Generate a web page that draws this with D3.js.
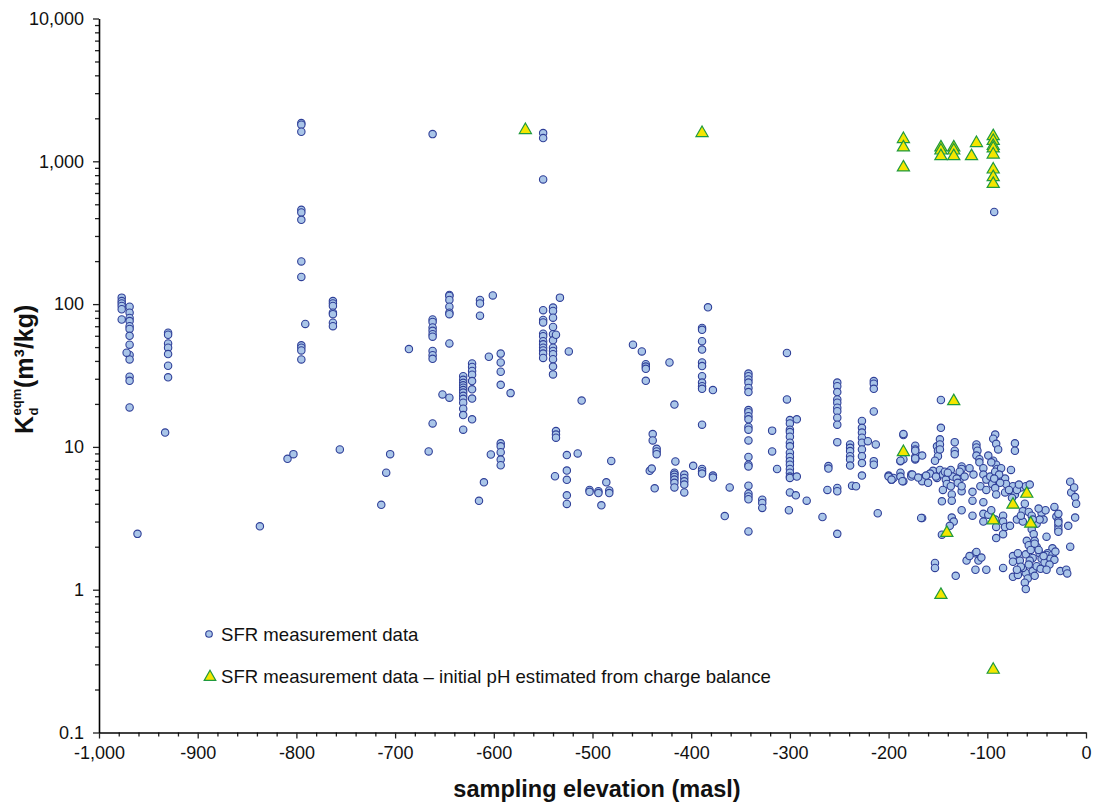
<!DOCTYPE html>
<html>
<head>
<meta charset="utf-8">
<script src="https://cdn.jsdelivr.net/npm/d3@7"></script>
<style>
  html, body { margin: 0; padding: 0; background: #fff; }
  svg { display: block; font-family: "Liberation Sans", Arial, sans-serif; }
</style>
</head>
<body>
<svg id="chart" width="1093" height="805"></svg>
<script>
// Sorption coefficient Kd (m3/kg) against sampling elevation (masl)

// SFR measurement data: [elevation, Kd]
const sfrPoints = [
  [-977,111],[-977,105],[-977,101],[-977,97],[-977,92],[-977,78],
  [-969,96],[-969,87],[-969,80],[-969,76],[-969,70],[-969,67],[-969,60],[-969,52],[-969,44],[-969,41],[-969,31],[-969,29],[-969,18.9],
  [-972,45.7],[-961,2.46],
  [-930,63],[-930,61],[-930,53],[-930,49.5],[-930,44.7],[-930,37],[-930,30.7],[-933,12.6],
  [-837,2.78],[-809,8.25],[-803,8.9],
  [-795,1853],[-795,1804],[-795,1610],[-795,457],[-795,438],[-795,389],[-795,199],[-795,155],
  [-795,51.4],[-795,49.5],[-795,47.4],[-795,41],[-791,72.6],
  [-763,105],[-763,101],[-763,97],[-763,87],[-763,85],[-763,74],[-763,70],[-756,9.6],
  [-714,3.93],[-709,6.6],[-705,8.9],
  [-686,48.4],
  [-662,1550],[-662,78],[-662,75],[-662,68.6],[-662,65],[-662,61.5],[-662,59.1],[-662,47],[-662,43.9],[-662,41.4],
  [-666,9.3],[-662,14.6],
  [-652,23.3],[-645,116],[-645,114],[-645,107],[-645,96],[-645,87],[-645,85],[-645,53],[-645,22.1],
  [-631,31.3],[-631,29.5],[-631,28.1],[-631,27],[-631,26],[-631,25],[-631,24],[-631,22.8],[-631,21.7],[-631,20.4],[-631,18.5],[-631,16.7],[-631,13.2],
  [-622,38.4],[-622,36.3],[-622,34],[-622,32],[-622,28.9],[-622,25.3],[-622,21.8],[-622,15.6],
  [-615,4.19],[-610,5.65],[-614,107],[-614,101],[-614,83],[-601,115],[-605,42.8],[-603,8.85],
  [-593,45],[-593,39],[-593,33.6],[-593,27.2],[-593,10.6],[-593,10.1],[-593,9.17],[-593,8.15],[-593,7.44],[-583,23.8],
  [-550,1577],[-550,1455],[-550,747],
  [-550,90.6],[-550,77.5],[-550,74.4],[-550,62],[-550,59.6],[-550,55],[-550,52.3],[-550,49.5],[-550,47.4],[-550,45],[-550,42],
  [-540,94.5],[-540,89.6],[-540,80.4],[-540,69.2],[-540,61.5],[-540,55.8],[-540,49.5],[-540,47],[-540,44.6],[-540,41.1],[-540,36.5],[-540,32.2],[-537,61],
  [-537,12.9],[-537,12.2],[-537,11.6],
  [-533,111],[-524,46.6],[-526,8.76],[-515,9.0],[-538,6.23],[-526,6.83],[-526,5.88],[-526,4.58],[-526,3.99],[-511,21.1],
  [-503,5.0],[-503,4.85],[-494,4.9],[-494,4.75],[-483,4.95],[-483,4.75],[-486,5.65],[-481,7.98],[-491,3.9],
  [-459,52],[-450,46.6],[-446,37.9],[-446,36.5],[-446,35.2],[-446,29],[-422,39],[-417,19.8],
  [-439,12.3],[-439,11.1],[-435,9.7],[-435,9.3],[-435,8.9],[-442,6.8],[-440,7.05],[-437,5.13],
  [-416,7.9],[-417,6.6],[-417,6.4],[-417,6.16],[-417,5.9],[-417,5.6],[-417,5.2],
  [-407,6.4],[-407,6.06],[-407,5.74],[-407,5.45],[-407,4.8],[-398,7.37],
  [-389,68],[-389,66],[-389,55],[-389,48],[-389,39],[-389,36.8],[-389,31.3],[-389,28.2],[-389,26.6],[-389,25.5],[-389,14.3],[-383,95],
  [-378,25],[-389,7.0],[-389,6.76],[-389,6.5],[-378,6.3],[-378,6.1],[-361,5.2],[-366,3.28],
  [-342,32.6],[-342,31.3],[-342,29.7],[-342,28.2],[-342,25.9],[-342,24.2],[-342,18.1],[-342,17.5],[-342,16.4],[-342,15.6],
  [-342,13.8],[-342,13.2],[-342,11.1],[-342,8.5],[-342,7.5],[-342,7.3],[-342,5.35],[-342,4.7],[-342,4.5],[-342,4.3],[-342,2.56],
  [-328,4.27],[-328,4.05],[-328,3.74],[-318,13.0],[-318,9.3],[-313,7.0],
  [-303,45.5],[-303,21.5],
  [-300,15.4],[-300,14.6],[-300,13.2],[-300,12.7],[-300,11.8],[-300,10.7],[-300,10.1],[-300,9.1],[-300,8.5],[-300,7.95],
  [-300,7.5],[-300,7.0],[-300,6.6],[-300,6.2],[-300,6.06],
  [-293,15.6],[-293,6.2],[-300,4.8],[-294,4.58],[-283,4.2],[-301,3.6],[-267,3.23],
  [-252,28.2],[-252,26.6],[-252,24.2],[-252,21.5],[-252,20.4],[-252,18.8],[-252,17.8],[-252,16],[-252,14.3],[-252,10.8],
  [-252,5.16],[-252,4.89],[-252,2.46],
  [-261,7.34],[-261,7.05],[-262,5.0],
  [-239,10.4],[-239,9.85],[-239,9.35],[-239,8.6],[-239,8.17],[-239,7.4],[-237,5.35],[-233,5.3],
  [-227,15.2],[-227,13.6],[-227,12.6],[-227,11.6],[-227,10.7],[-227,9.6],[-227,8.6],[-227,7.7],[-227,6.3],[-221,10.96],
  [-215,28.9],[-215,27.7],[-215,25.5],[-215,17.7],[-215,7.95],[-215,7.5],[-213,10.4],[-211,3.43],
  [-185,12.1],
  // shallow boreholes, -200 to 0 masl
  [-200,6.3],[-197,5.9],[-195,6.06],[-188,6.6],[-188,6.2],[-185,5.75],[-188,7.95],[-185,8.2],
  [-177,6.4],[-177,6.2],[-166,6.06],[-166,5.75],[-160,5.6],[-151,6.06],
  [-173,10.2],[-173,9.6],[-173,8.5],[-171,8.7],[-173,8.17],[-166,3.18],[-153,1.54],[-153,1.42],
  [-147,21.3],[-147,13.6],[-146,4.16],[-146,2.43],
  [-185,12.3],[-133,10.8],[-173,9.4],[-166,8.7],[-173,8.3],[-188,8.0],
  [-151,10.1],[-150,9.4],[-150,8.6],[-153,8.0],
  [-148,11.3],[-148,10.4],[-148,9.6],[-133,9.4],[-133,8.9],
  [-111,10.4],[-111,9.9],[-110,9.4],[-111,8.7],[-108,8.2],[-108,7.8],
  [-92,12.2],[-94,11.4],[-91,10.5],[-89,9.6],[-72,10.6],[-72,9.4],[-99,8.7],
  [-94,8.0],[-91,7.5],[-90,7.0],[-126,7.3],[-126,7.0],
  [-200,6.2],[-197,5.9],[-186,5.75],[-176,6.4],[-155,6.8],[-148,6.9],[-145,6.4],[-142,5.9],
  [-137,6.9],[-135,6.2],[-128,6.7],[-128,5.9],[-123,6.2],[-118,7.1],[-114,6.4],[-104,7.1],[-104,6.4],
  [-101,5.9],[-97,6.2],[-92,6.7],[-91,5.9],[-86,7.1],[-82,6.0],[-81,5.5],[-76,6.9],[-74,5.3],
  [-66,5.2],[-61,5.3],[-57,5.45],
  [-158,6.5],[-152,6.2],[-143,6.7],[-170,6.1],[-162,6.3],
  [-140,6.6],[-131,6.0],[-130,5.6],[-141,5.5],[-126,4.9],
  [-96,7.8],[-88,6.4],[-95,5.5],[-87,5.6],[-93,6.0],
  [-145,5.0],[-137,5.3],[-136,4.65],[-126,5.3],[-115,4.85],[-107,5.3],[-101,5.0],[-92,5.15],[-91,4.65],
  [-82,4.8],[-72,4.65],[-78,5.0],[-70,5.0],[-68,5.45],[-75,4.4],
  [-136,4.2],[-115,4.2],[-126,3.6],[-167,3.18],[-136,3.2],[-134,3.0],[-138,2.8],
  [-115,3.3],[-104,4.1],[-104,3.4],[-104,3.0],
  [-99,3.35],[-96,3.6],[-92,3.1],[-91,2.75],[-91,2.3],
  [-84,3.3],[-84,3.0],[-82,2.75],[-84,2.45],[-77,2.8],[-70,3.1],[-64,3.55],[-64,3.0],
  [-62,4.0],[-58,3.5],[-55,3.3],[-66,3.3],[-45,3.45],[-41,3.6],
  [-55,2.65],[-53,2.45],[-52,2.2],[-50,2.0],[-60,2.2],[-58,2.05],
  [-48,3.7],[-43,3.1],[-50,2.9],[-47,3.1],[-54,3.1],[-40,2.35],[-34,1.95],[-39,1.8],
  [-32,3.8],[-30,3.25],[-28,3.05],[-28,2.8],[-28,2.65],[-28,3.4],[-28,2.95],[-28,2.55],[-18,2.8],
  [-16,5.7],[-15,4.8],[-12,5.2],[-11,4.45],[-10,4.0],[-11,3.2],[-16,2.0],
  [-74,1.72],[-67,1.6],[-61,1.77],[-54,1.67],[-47,1.8],[-40,1.75],[-34,1.75],[-37,1.58],[-74,1.57],[-69,1.8],
  [-74,1.23],[-69,1.27],[-61,1.31],[-54,1.35],[-64,1.42],[-57,1.6],[-50,1.46],
  [-52,2.1],[-48,1.9],[-45,1.65],[-56,1.9],[-58,1.5],[-66,1.45],[-70,1.38],[-59,1.2],[-52,1.25],
  [-46,1.4],[-42,1.55],[-36,1.65],[-31,1.85],[-32,1.62],
  [-62,1.12],[-61,1.01],
  [-112,1.8],[-111,1.84],[-109,1.6],[-112,1.38],[-121,1.6],[-101,1.38],[-84,1.42],[-118,1.72],[-106,1.68],
  [-132,1.25],
  [-26,1.35],[-20,1.38],[-19,1.3],
  [-43,1.72],[-37,1.5],[-40,1.38],
  [-93,442]
];

// SFR measurement data with initial pH estimated from charge balance: [elevation, Kd]
const chargeBalancePoints = [
  [-568,1655],[-389,1577],
  [-185,1432],[-185,1251],[-185,906],
  [-147,1251],[-147,1190],[-147,1086],
  [-134,1251],[-134,1190],[-134,1086],
  [-116,1086],[-111,1342],
  [-94,1500],[-94,1390],[-94,1280],[-94,1230],[-94,1115],[-94,876],[-94,775],[-94,695],
  [-134,20.9],[-185,9.2],[-60,4.7],[-74,3.94],[-94,3.06],[-56,2.9],[-141,2.5],[-147,0.92],[-94,0.275]
];

// Axis ticks and labels
const xMajorTicks = [-1000,-900,-800,-700,-600,-500,-400,-300,-200,-100,0];
const yMajorTicks = [0.1, 1, 10, 100, 1000, 10000];
const legendLabels = [
  "SFR measurement data",
  "SFR measurement data \u2013 initial pH estimated from charge balance"
];

(function draw() {
  const svg = d3.select("#chart");
  const plotLeft = 99, plotRight = 1086, plotTop = 18.5, plotBottom = 732.5;

  const x = d3.scaleLinear().domain([-1000, 0]).range([plotLeft, plotRight]);
  const y = d3.scaleLog().domain([0.1, 10000]).range([plotBottom, plotTop]);

  const fmtNum = v => d3.format(",")(v).replace("\u2212", "-");

  const xMinor = d3.range(-1000, 1, 20).filter(v => v % 100 !== 0);
  const yMinor = [];
  yMajorTicks.slice(0, -1).forEach(d => { for (let k = 2; k <= 9; k++) yMinor.push(+(d * k).toPrecision(3)); });

  // minor ticks
  svg.append("g")
    .attr("transform", `translate(0,${plotBottom})`)
    .call(d3.axisBottom(x).tickValues(xMinor).tickSize(4).tickFormat(""))
    .call(g => g.select(".domain").remove());
  svg.append("g")
    .attr("transform", `translate(${plotLeft},0)`)
    .call(d3.axisLeft(y).tickValues(yMinor).tickSize(4).tickFormat(""))
    .call(g => g.select(".domain").remove());

  // major ticks and labels
  const xAxis = svg.append("g")
    .attr("transform", `translate(0,${plotBottom})`)
    .call(d3.axisBottom(x).tickValues(xMajorTicks).tickSize(6).tickPadding(8).tickFormat(fmtNum).tickSizeOuter(0));
  const yAxis = svg.append("g")
    .attr("transform", `translate(${plotLeft},0)`)
    .call(d3.axisLeft(y).tickValues(yMajorTicks).tickSize(6).tickPadding(9).tickFormat(fmtNum).tickSizeOuter(0));

  [xAxis, yAxis].forEach(g => {
    g.selectAll("text").attr("font-size", 18).attr("fill", "#111").attr("font-family", "Liberation Sans, Arial, sans-serif");
    g.select(".domain").attr("stroke", "#000").attr("stroke-width", 1.6);
  });
  svg.selectAll(".tick line").attr("stroke", "#222").attr("stroke-width", 1.3);

  // measurement points
  svg.append("g")
    .selectAll("circle")
    .data(sfrPoints)
    .join("circle")
    .attr("cx", d => x(d[0]))
    .attr("cy", d => y(d[1]))
    .attr("r", 3.7)
    .attr("fill", "#a9c5e8")
    .attr("stroke", "#2f3f98")
    .attr("stroke-width", 1.1);

  const tri = d3.symbol().type(d3.symbolTriangle).size(64);
  svg.append("g")
    .selectAll("path")
    .data(chargeBalancePoints)
    .join("path")
    .attr("d", tri)
    .attr("transform", d => `translate(${x(d[0])},${y(d[1])})`)
    .attr("fill", "#f4e600")
    .attr("stroke", "#1f9a3e")
    .attr("stroke-width", 1.2);

  // legend
  const legend = svg.append("g").attr("font-size", 18.6).attr("fill", "#111");
  legend.append("circle").attr("cx", 209).attr("cy", 634).attr("r", 3.3)
    .attr("fill", "#a9c5e8").attr("stroke", "#2f3f98").attr("stroke-width", 1.1);
  legend.append("text").attr("x", 221).attr("y", 640.5).text(legendLabels[0]);
  legend.append("path").attr("d", d3.symbol().type(d3.symbolTriangle).size(58)())
    .attr("transform", "translate(210,677)")
    .attr("fill", "#f4e600").attr("stroke", "#1f9a3e").attr("stroke-width", 1.2);
  legend.append("text").attr("x", 221).attr("y", 683).text(legendLabels[1]);

  // axis titles
  svg.append("text")
    .attr("x", 597)
    .attr("y", 797)
    .attr("text-anchor", "middle")
    .attr("font-size", 23.5)
    .attr("font-weight", "bold")
    .attr("fill", "#111")
    .text("sampling elevation (masl)");

  const yt = svg.append("g").attr("transform", "translate(33,434) rotate(-90)")
    .attr("font-weight", "bold").attr("fill", "#111");
  yt.append("text").attr("x", 0).attr("y", 0).attr("font-size", 25).text("K");
  yt.append("text").attr("x", 18.5).attr("y", 5).attr("font-size", 13).text("d");
  yt.append("text").attr("x", 18.5).attr("y", -12).attr("font-size", 13).text("eqm");
  yt.append("text").attr("x", 46).attr("y", 0).attr("font-size", 25).text("(m\u00b3/kg)");
})();
</script>
</body>
</html>
